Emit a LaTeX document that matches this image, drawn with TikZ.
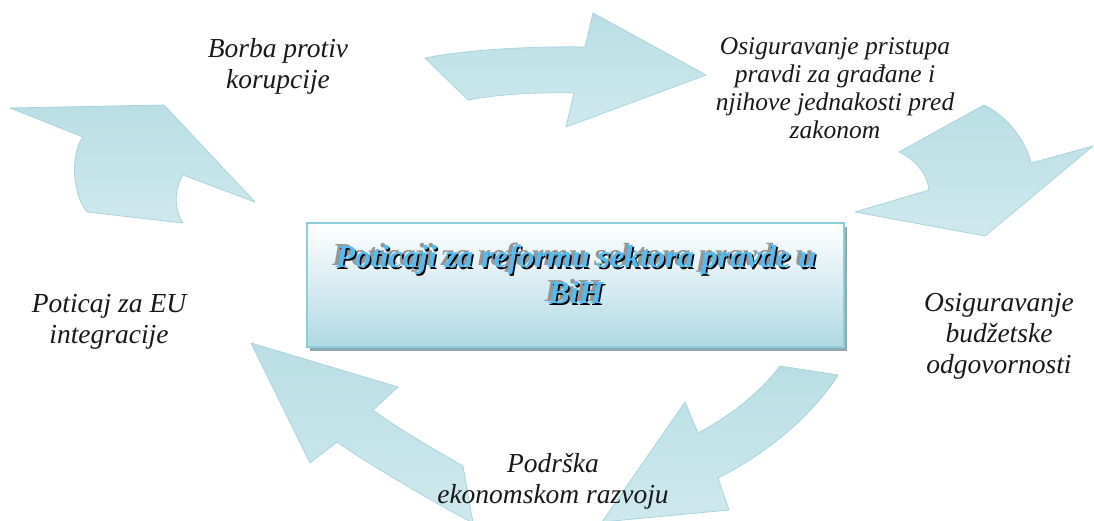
\documentclass[tikz,border=0pt]{standalone}
\usepackage{fontspec}
\setmainfont{Liberation Serif}
\definecolor{arrowtop}{RGB}{186,222,228}
\definecolor{arrowbot}{RGB}{206,233,237}
\definecolor{arrowedge}{RGB}{168,213,221}
\definecolor{boxedge}{RGB}{140,204,219}
\definecolor{boxbot}{RGB}{176,217,228}
\definecolor{boxshadow}{RGB}{143,168,178}
\definecolor{titleblue}{RGB}{78,190,245}
\definecolor{titlegrey}{RGB}{150,150,150}
\usetikzlibrary{shadows}

\tikzset{
  blockarrow/.style={draw=arrowedge, line width=0.8pt, top color=arrowtop, bottom color=arrowbot, line join=round},
  lbl/.style={font=\fontsize{27.5}{31}\selectfont\itshape, align=center, inner sep=0pt, anchor=north, text=black!90},
  titletext/.style={font=\fontsize{32}{36}\selectfont\bfseries\itshape, align=center, inner sep=0pt, anchor=north}
}

\begin{document}
\begin{tikzpicture}[x=1pt, y=-1pt]
  \useasboundingbox (0,0) rectangle (1094,521);
  \begin{scope}
    \clip (0,0) rectangle (1094,521);
    \draw[blockarrow] (425,58) .. controls (460,51) and (520,46) .. (585,47) -- (593,13) -- (706,75) -- (566,127) -- (574,93) .. controls (540,92) and (500,94) .. (468,100) -- cycle;
    \draw[blockarrow] (899,152) -- (984,105) .. controls (1005,115) and (1025,138) .. (1031,163) -- (1093,146) -- (985,236) -- (855,212) -- (929,190) .. controls (928,177) and (917,160) .. (899,152) -- cycle;
    \draw[blockarrow] (780,366) -- (838,375) .. controls (815,412) and (770,452) .. (718,478) -- (729,510) -- (602,522) -- (685,402) -- (698,433) .. controls (728,417) and (758,395) .. (780,366) -- cycle;
    \draw[blockarrow] (251,343) -- (398,387) -- (373,410) .. controls (400,430) and (435,450) .. (463,466) -- (473,523) .. controls (430,500) and (370,465) .. (337,442) -- (310,463) -- cycle;
    \draw[blockarrow] (10,108) -- (164,105) -- (255,202) -- (183,175) .. controls (174,190) and (174,210) .. (183,223) -- (87,212) .. controls (70,190) and (72,150) .. (83,137) -- cycle;
  \end{scope}

  \node[draw=boxedge, line width=2pt, top color=white, bottom color=boxbot, minimum width=537pt, minimum height=124pt,
        general shadow={fill=boxshadow, shadow xshift=3pt, shadow yshift=-4pt}] (reform) at (575.5,285) {};
  \node[titletext, text=titlegrey, xshift=-3.5pt, yshift=2.5pt] (titleecho) at (576,245) {Poticaji za reformu sektora pravde u\\BiH};
  \node[titletext, text=black, xshift=1.5pt, yshift=-1.5pt] (titleshade) at (576,245) {Poticaji za reformu sektora pravde u\\BiH};
  \node[titletext, text=titleblue] (title) at (576,245) {Poticaji za reformu sektora pravde u\\BiH};

  \node[lbl] (korupcija) at (278,38) {Borba protiv\\korupcije};
  \node[lbl, font=\fontsize{25.5}{28}\selectfont\itshape] (pristup) at (835,37) {Osiguravanje pristupa\\pravdi za građane i\\njihove jednakosti pred\\zakonom};
  \node[lbl] (budzet) at (999,293) {Osiguravanje\\budžetske\\odgovornosti};
  \node[lbl] (razvoj) at (553,453) {Podrška\\ekonomskom razvoju};
  \node[lbl] (integracija) at (109,294) {Poticaj za EU\\integracije};
\end{tikzpicture}
\end{document}
